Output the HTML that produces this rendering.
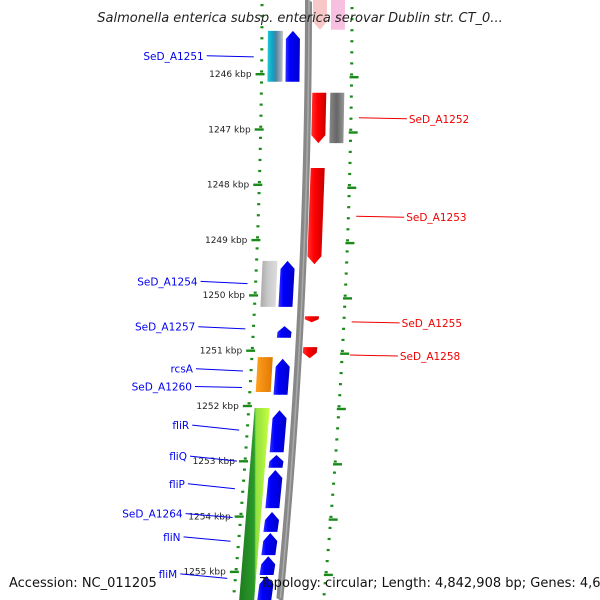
<!DOCTYPE html>
<html><head><meta charset="utf-8"><style>
body{margin:0;background:#fff;}
svg{display:block;font-family:"DejaVu Sans","Liberation Sans",sans-serif;}
</style></head><body>
<svg id="map" width="600" height="600" viewBox="0 0 600 600" xmlns="http://www.w3.org/2000/svg">
<defs>
<linearGradient id="gBlue" x1="0" x2="1"><stop offset="0" stop-color="#3030ff"/><stop offset="0.3" stop-color="#0000ff"/><stop offset="1" stop-color="#0000c8"/></linearGradient>
<linearGradient id="gRed" x1="0" x2="1"><stop offset="0" stop-color="#ff3030"/><stop offset="0.4" stop-color="#ff0000"/><stop offset="1" stop-color="#c80000"/></linearGradient>
<linearGradient id="gGray" x1="0" x2="1"><stop offset="0" stop-color="#888"/><stop offset="0.5" stop-color="#666"/><stop offset="1" stop-color="#999"/></linearGradient>
<linearGradient id="gLGray" x1="0" x2="1"><stop offset="0" stop-color="#aaa"/><stop offset="0.5" stop-color="#ccc"/><stop offset="1" stop-color="#ddd"/></linearGradient>
<linearGradient id="gCyan" x1="0" x2="1"><stop offset="0" stop-color="#20c8d8"/><stop offset="0.35" stop-color="#10a0c0"/><stop offset="0.55" stop-color="#5080a0"/><stop offset="1" stop-color="#c0c0c0"/></linearGradient>
<linearGradient id="gOrange" x1="0" x2="1"><stop offset="0" stop-color="#ffa020"/><stop offset="1" stop-color="#e07800"/></linearGradient>
<linearGradient id="gGreen" x1="0" x2="1"><stop offset="0" stop-color="#1e7a1e"/><stop offset="0.5" stop-color="#2a9a2a"/><stop offset="0.55" stop-color="#90e040"/><stop offset="1" stop-color="#c8ff40"/></linearGradient>
</defs>
<g id="layer"></g>
<text x="300" y="22" text-anchor="middle" font-style="italic" font-size="13" fill="#222">Salmonella enterica subsp. enterica serovar Dublin str. CT_0...</text>
<text x="9" y="587" font-size="13" fill="#111">Accession: NC_011205</text>
<text x="260" y="587" font-size="13" fill="#111">Topology: circular; Length: 4,842,908 bp; Genes: 4,618</text>
</svg>
<script>
const tickKbp=[1246,1247,1248,1249,1250,1251,1252,1253,1254,1255];
// features: start kbp, end kbp, track, strand(+1 up, -1 down, 0 none), color
const featStart=[1244.66,1244.66,1245.22,1245.22,1246.34,1246.34,1247.70,1249.38,1249.38,1250.56,1250.38,1250.94,1251.12,1251.15,1252.04,1252.08,1252.89,1253.16,1253.92,1254.30,1254.72,1255.08];
const featEnd=[1245.20,1245.20,1246.14,1246.14,1247.25,1247.25,1249.44,1250.21,1250.21,1250.77,1250.49,1251.14,1251.75,1251.80,1255.60,1252.84,1253.12,1253.85,1254.28,1254.70,1255.06,1255.60];
const featTrack=["red","gray","cyan","blue","red","gray","red","cyan","blue","blue","red","red","cyan","blue","cyan","blue","blue","blue","blue","blue","blue","blue"];
const featStrand=[-1,0,0,1,-1,0,-1,0,1,1,-1,-1,0,1,0,1,1,1,1,1,1,1];
const featColor=["pink","magenta","gCyan","gBlue","gRed","gGray","gRed","gLGray","gBlue","gBlue","gRed","gRed","gOrange","gBlue","gGreen","gBlue","gBlue","gBlue","gBlue","gBlue","gBlue","gBlue"];
const leftLabels=["SeD_A1251","SeD_A1254","SeD_A1257","rcsA","SeD_A1260","fliR","fliQ","fliP","SeD_A1264","fliN","fliM"];
const leftLabelKbp=[1245.67,1249.75,1250.57,1251.33,1251.65,1252.35,1252.91,1253.41,1253.95,1254.37,1255.04];
const leftTargetKbp=[1245.69,1249.79,1250.61,1251.37,1251.67,1252.44,1253.00,1253.50,1254.02,1254.45,1255.12];
const rightLabels=["SeD_A1252","SeD_A1253","SeD_A1255","SeD_A1258"];
const rightLabelKbp=[1246.81,1248.59,1250.50,1251.10];

const layer=document.getElementById('layer');
const NS="http://www.w3.org/2000/svg";
const yOf=k=>74+(k-1246)*55.3;
const kOf=y=>1246+(y-74)/55.3;
const leftX=y=>262-0.00008*y*y;
const trackDx={cyan:[6,21],blue:[24,38],red:[51,65],gray:[69,83]};
function mk(tag,attrs,parent){const e=document.createElementNS(NS,tag);for(const k in attrs)e.setAttribute(k,attrs[k]);(parent||layer).appendChild(e);return e;}

// dotted scale lines
for(let y=4;y<600;y+=11.06){
  const d=mk('rect',{x:leftX(y)-1.5,y:y,width:3,height:2.2,fill:'#1a8a1a'});
  
  
  const d2=mk('rect',{x:leftX(y)+90-1.5,y:y+3,width:3,height:2.2,fill:'#1a8a1a'});
  
  
}
// backbone
{
  let pts=[];for(let y=-2;y<=602;y+=10)pts.push([leftX(y)+43,y]);
  let pts2=[];for(let y=602;y>=-2;y-=10)pts2.push([leftX(y)+50,y]);
  const p=mk('polygon',{points:pts.concat(pts2).map(a=>a.join(',')).join(' '),fill:'#888'});
  
  
  let pts3=[];for(let y=-2;y<=602;y+=10)pts3.push([leftX(y)+47,y]);
  const q=mk('polyline',{points:pts3.map(a=>a.join(',')).join(' '),stroke:'#aaa',fill:'none','stroke-width':1.5});
  
  
}
// ticks
tickKbp.forEach(k=>{
  const y=yOf(k);
  const t=mk('rect',{x:leftX(y)-6,y:y-1,width:9,height:2.4,fill:'#1a8a1a'});
  
  
  const t2=mk('rect',{x:leftX(y)+88,y:y+2,width:9,height:2.4,fill:'#1a8a1a'});
  
  
  const l=mk('text',{x:leftX(y)-10,y:y+3,'text-anchor':'end','font-size':'9',fill:'#222'});
  l.textContent=k+' kbp';
  
  
});
// features
featStart.forEach((s,i)=>{
  const y1=Math.max(yOf(s),-2),y2=Math.min(yOf(featEnd[i]),602);
  const [a,b]=trackDx[featTrack[i]];
  const xa1=leftX(y1)+a,xb1=leftX(y1)+b,xa2=leftX(y2)+a,xb2=leftX(y2)+b;
  const h=Math.min(8,(y2-y1)*0.5);
  let pts;
  if(featStrand[i]===1) pts=[[xa1,y1+h],[(xa1+xb1)/2,y1],[xb1,y1+h],[xb2,y2],[xa2,y2]];
  else if(featStrand[i]===-1) pts=[[xa1,y1],[xb1,y1],[xb2,y2-h],[(xa2+xb2)/2,y2],[xa2,y2-h]];
  else pts=[[xa1,y1],[xb1,y1],[xb2,y2],[xa2,y2]];
  const c=featColor[i];
  const fill=c==='pink'?'#f8c8c8':c==='magenta'?'#f8c0e0':'url(#'+c+')';
  const p=mk('polygon',{points:pts.map(q=>q.join(',')).join(' '),fill:fill});
  
  
});
// left labels
leftLabels.forEach((n,i)=>{
  const y=yOf(leftLabelKbp[i]);
  const ty=yOf(leftTargetKbp[i]);
  const tx=leftX(ty)-8;
  const t=mk('text',{x:tx-50,y:y+4,'text-anchor':'end','font-size':'10.5',fill:'#0000ee'});
  t.textContent=n;
  
  
  const l=mk('line',{x1:tx-47,y1:y,x2:tx,y2:ty,stroke:'#0000ee','stroke-width':1});
  
  
});
rightLabels.forEach((n,i)=>{
  const y=yOf(rightLabelKbp[i]);
  const x0=leftX(y)+98;
  const l=mk('line',{x1:x0,y1:y-1,x2:x0+48,y2:y,stroke:'#ee0000','stroke-width':1});
  
  
  const t=mk('text',{x:x0+50,y:y+4,'font-size':'10.5',fill:'#ee0000'});
  t.textContent=n;
  
  
});
</script>
</body></html>
